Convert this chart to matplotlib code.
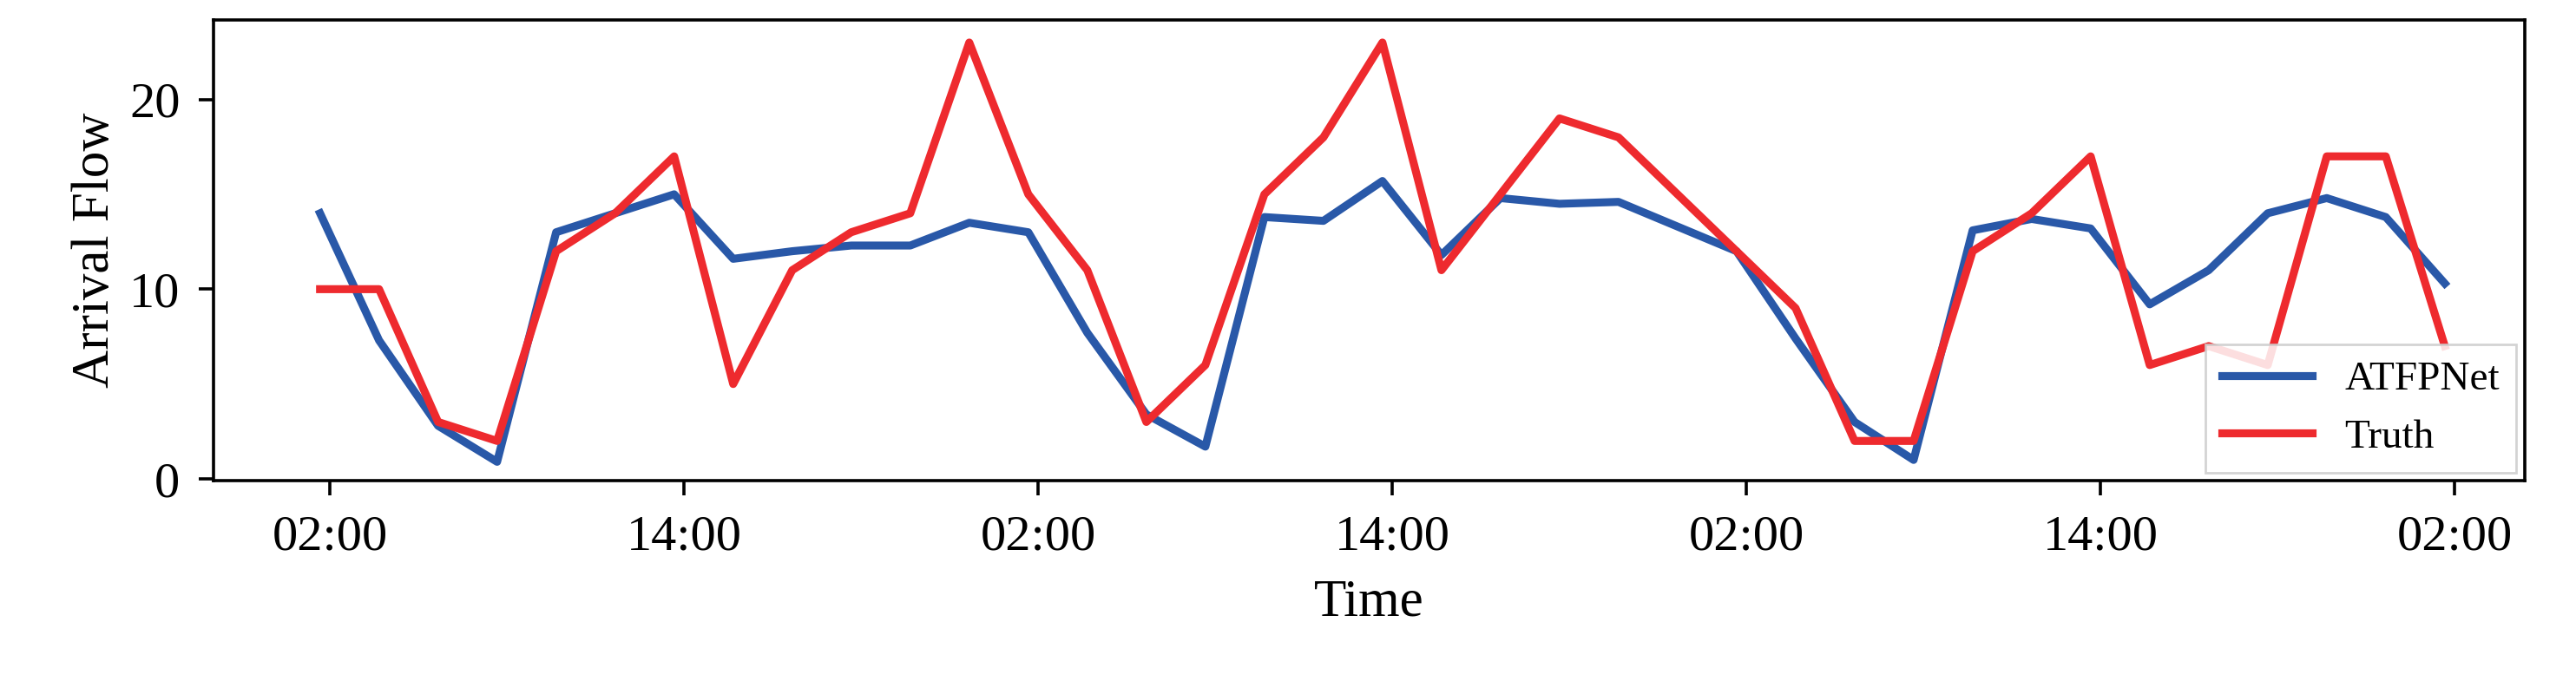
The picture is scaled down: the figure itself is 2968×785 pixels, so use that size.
import matplotlib.pyplot as plt

plt.rcParams['font.family'] = ['Liberation Serif', 'DejaVu Serif']

# hours since the first midnight, one reading every 2 hours
hours = [1.67 + 2 * i for i in range(37)]
atfpnet = [14, 7.3, 2.8, 0.9, 13, 14, 15, 11.6, 12, 12.3, 12.3, 13.5, 13, 7.7, 3.4, 1.7,
           13.8, 13.6, 15.7, 11.8, 14.8, 14.5, 14.6, 13.3, 12, 7.4, 3, 1, 13.1, 13.7, 13.2,
           9.2, 11, 14, 14.8, 13.8, 10.3]
truth = [10, 10, 3, 2, 12, 14, 17, 5, 11, 13, 14, 23, 15, 11, 3, 6, 15, 18, 23, 11, 15,
         19, 18, 15, 12, 9, 2, 2, 12, 14, 17, 6, 7, 6, 17, 17, 7]
tick_hours = [2, 14, 26, 38, 50, 62, 74]
tick_labels = ['02:00', '14:00', '02:00', '14:00', '02:00', '14:00', '02:00']

fig = plt.figure(figsize=(14.84, 3.925), dpi=200)
ax = fig.add_axes([0.083, 0.294, 0.897, 0.677])
ax.plot(hours, atfpnet, color='#2958a8', lw=3.3, label='ATFPNet')
ax.plot(hours, truth, color='#ee2a2e', lw=3.3, label='Truth')
ax.set_xlim(hours[0] - 3.6, hours[-1] + 2.7)
ax.set_ylim(-0.1, 24.2)
ax.set_yticks([0, 10, 20])
ax.set_xticks(tick_hours)
ax.set_xticklabels(tick_labels)
ax.tick_params(labelsize=21, width=1.3, length=6, pad=8)
for s in ax.spines.values():
    s.set_linewidth(1.3)
ax.set_xlabel('Time', fontsize=22, labelpad=8)
ax.set_ylabel('Arrival Flow', fontsize=22)
ax.legend(loc='lower right', fontsize=17, fancybox=False, edgecolor='#cccccc',
          framealpha=0.85, handlelength=2.2, borderaxespad=0.2)
fig.savefig('out.png', dpi=200)
